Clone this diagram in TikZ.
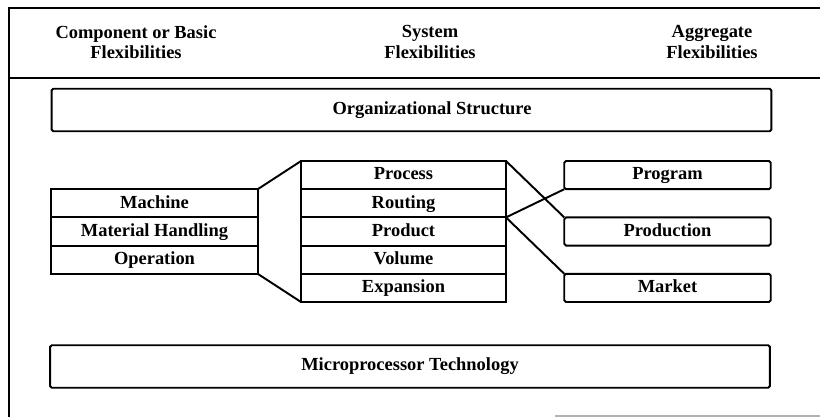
\documentclass[tikz,border=0pt]{standalone}
\usepackage{fontspec}
\setmainfont{Liberation Serif}
\usetikzlibrary{positioning}

\begin{document}
\begin{tikzpicture}[x=0.02cm, y=-0.02cm, line width=1.1pt,
		every node/.style={font=\bfseries\fontsize{10.5}{12}\selectfont, inner sep=0pt, outer sep=0pt},
		cell/.style={draw, rectangle, minimum width=4.13cm, minimum height=0.564cm, text height=1.6ex, text depth=.4ex},
		band/.style={draw, rectangle, rounded corners=1pt, minimum width=14.4cm, minimum height=0.85cm},
		head/.style={align=center, font=\bfseries\fontsize{10.5}{11.5}\selectfont}]
			\useasboundingbox (0,0) rectangle (820,417);
			% Frame
			\draw (820,8) -- (9,8) -- (9,417);
			\draw (9,78) -- (820,78);
			\draw[gray!60, line width=0.6pt] (555,416) -- (820,416);
			% Headers
			\node[head] (hbasic) at (136,42) {Component or Basic\\Flexibilities};
			\node[head] (hsystem) at (430,42) {System\\Flexibilities};
			\node[head] (haggr) at (712,42) {Aggregate\\Flexibilities};
			% Bands
			\node[band] (org) at (411.5,110) {};
			\node (orgtext) at (432,110) {Organizational Structure};
			\node[band] (micro) at (410,366.5) {Microprocessor Technology};
			% Basic flexibilities
			\node[cell] (machine) at (154.5,203.3) {Machine};
			\node[cell] (handling) at (154.5,231.5) {Material Handling};
			\node[cell] (operation) at (154.5,259.7) {Operation};
			% System flexibilities
			\node[cell, minimum width=4.1cm] (process) at (403.5,175.1) {Process};
			\node[cell, minimum width=4.1cm] (routing) at (403.5,203.3) {Routing};
			\node[cell, minimum width=4.1cm] (product) at (403.5,231.5) {Product};
			\node[cell, minimum width=4.1cm] (volume) at (403.5,259.7) {Volume};
			\node[cell, minimum width=4.1cm] (expansion) at (403.5,287.9) {Expansion};
			% Aggregate flexibilities
			\node[cell, rounded corners=1pt] (program) at (667.5,175.1) {Program};
			\node[cell, rounded corners=1pt] (production) at (667.5,231.5) {Production};
			\node[cell, rounded corners=1pt] (market) at (667.5,287.9) {Market};
			% Edges
			\draw (machine.north east) -- (process.north west);
			\draw (operation.south east) -- (expansion.south west);
			\draw (process.north east) -- (production.north west);
			\draw (product.north east) -- (program.south west);
			\draw (product.north east) -- (market.north west);
		\end{tikzpicture}
\end{document}
